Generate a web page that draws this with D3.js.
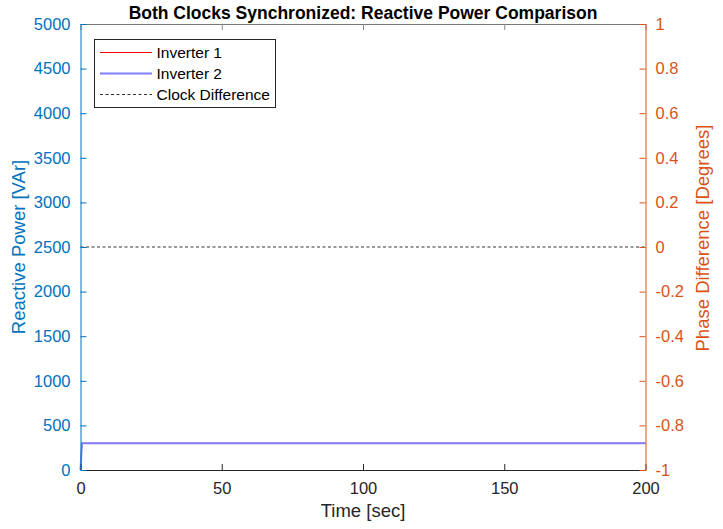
<!DOCTYPE html>
<html>
<head>
<meta charset="utf-8">
<script src="https://cdn.jsdelivr.net/npm/d3@7"></script>
<style>
  body { margin: 0; background: #fff; }
  text { font-family: "Liberation Sans", Arial, sans-serif; }
</style>
</head>
<body>
<svg id="chart"></svg>
<script>
const timeSec = [0, 0.5, 200];
const inverter1 = [0, 300, 300];
const inverter2 = [0, 300, 300];
const clockDiff = [0, 0, 0];
const xTicks = [0, 50, 100, 150, 200];
const yLeftTicks = d3.range(0, 5001, 500);
const yRightTicks = [-1, -0.8, -0.6, -0.4, -0.2, 0, 0.2, 0.4, 0.6, 0.8, 1];

const width = 723, height = 529;
const margin = { top: 24, right: 77.5, bottom: 59, left: 80.5 };
const blue = "#0072BD", orange = "#D95319", gray = "#262626";

const svg = d3.select("#chart").attr("width", width).attr("height", height);

const x = d3.scaleLinear().domain([0, 200]).range([margin.left, width - margin.right]);
const yL = d3.scaleLinear().domain([0, 5000]).range([height - margin.bottom, margin.top]);
const yR = d3.scaleLinear().domain([-1, 1]).range([height - margin.bottom, margin.top]);

// data lines (drawn first so axes sit on top)
const lineL = d3.line().x((d, i) => x(timeSec[i])).y(d => yL(d));
const lineR = d3.line().x((d, i) => x(timeSec[i])).y(d => yR(d));

svg.append("path").datum(clockDiff)
    .attr("fill", "none").attr("stroke", "#333").attr("stroke-width", 1)
    .attr("stroke-dasharray", "3,2.5").attr("d", lineR);

svg.append("path").datum(inverter1)
    .attr("fill", "none").attr("stroke", "#ff0000").attr("stroke-width", 1).attr("d", lineL);

svg.append("path").datum(inverter2)
    .attr("fill", "none").attr("stroke", "#7f7fff").attr("stroke-width", 2).attr("d", lineL);

// axes
const fmtL = d => String(d);
const fmtR = d => String(+d.toFixed(1));

const axBottom = svg.append("g")
    .attr("transform", `translate(0,${height - margin.bottom})`)
    .call(d3.axisBottom(x).tickValues(xTicks).tickSizeInner(-6).tickSizeOuter(0).tickPadding(12));
const axTop = svg.append("g")
    .attr("transform", `translate(0,${margin.top})`)
    .call(d3.axisTop(x).tickValues(xTicks).tickSizeInner(-6).tickSizeOuter(0).tickFormat(""));
const axLeft = svg.append("g")
    .attr("transform", `translate(${margin.left},0)`)
    .call(d3.axisLeft(yL).tickValues(yLeftTicks).tickSizeInner(-6).tickSizeOuter(0).tickPadding(10).tickFormat(fmtL));
const axRight = svg.append("g")
    .attr("transform", `translate(${width - margin.right},0)`)
    .call(d3.axisRight(yR).tickValues(yRightTicks).tickSizeInner(-6).tickSizeOuter(0).tickPadding(10).tickFormat(fmtR));

[[axBottom, gray], [axTop, gray], [axLeft, blue], [axRight, orange]].forEach(([g, c]) => {
  g.select(".domain").attr("stroke", c);
  g.selectAll(".tick line").attr("stroke", c);
  g.selectAll(".tick text").attr("fill", c).style("font-size", "16.5px");
});
axTop.selectAll(".tick line").attr("stroke", "#888");
axTop.select(".domain").attr("stroke", "#777");

// labels
svg.append("text").attr("x", (margin.left + width - margin.right) / 2).attr("y", 19)
    .attr("text-anchor", "middle").style("font-size", "17.5px").style("font-weight", "bold")
    .attr("fill", "#000").text("Both Clocks Synchronized: Reactive Power Comparison");

svg.append("text").attr("x", (margin.left + width - margin.right) / 2).attr("y", 517)
    .attr("text-anchor", "middle").style("font-size", "18.5px").attr("fill", gray).text("Time [sec]");

svg.append("text")
    .attr("transform", "translate(25,247) rotate(-90)")
    .attr("text-anchor", "middle").style("font-size", "18.5px").attr("fill", blue).text("Reactive Power [VAr]");

svg.append("text")
    .attr("transform", "translate(709,238) rotate(-90)")
    .attr("text-anchor", "middle").style("font-size", "18.5px").attr("fill", orange).text("Phase Difference [Degrees]");

// legend
const legendItems = [
  { name: "Inverter 1", color: "#ff0000", w: 1, dash: null },
  { name: "Inverter 2", color: "#7f7fff", w: 2, dash: null },
  { name: "Clock Difference", color: "#333", w: 1, dash: "3,2.5" }
];
const lg = svg.append("g").attr("transform", "translate(94.5,39.5)");
lg.append("rect").attr("width", 181).attr("height", 68)
    .attr("fill", "#fff").attr("stroke", gray).attr("stroke-width", 1);
legendItems.forEach((d, i) => {
  const yy = 13 + i * 21;
  lg.append("line").attr("x1", 5.5).attr("x2", 57.5).attr("y1", yy).attr("y2", yy)
      .attr("stroke", d.color).attr("stroke-width", d.w).attr("stroke-dasharray", d.dash);
  lg.append("text").attr("x", 62).attr("y", yy + 5.5).style("font-size", "15.5px")
      .attr("fill", "#000").text(d.name);
});
</script>
</body>
</html>
